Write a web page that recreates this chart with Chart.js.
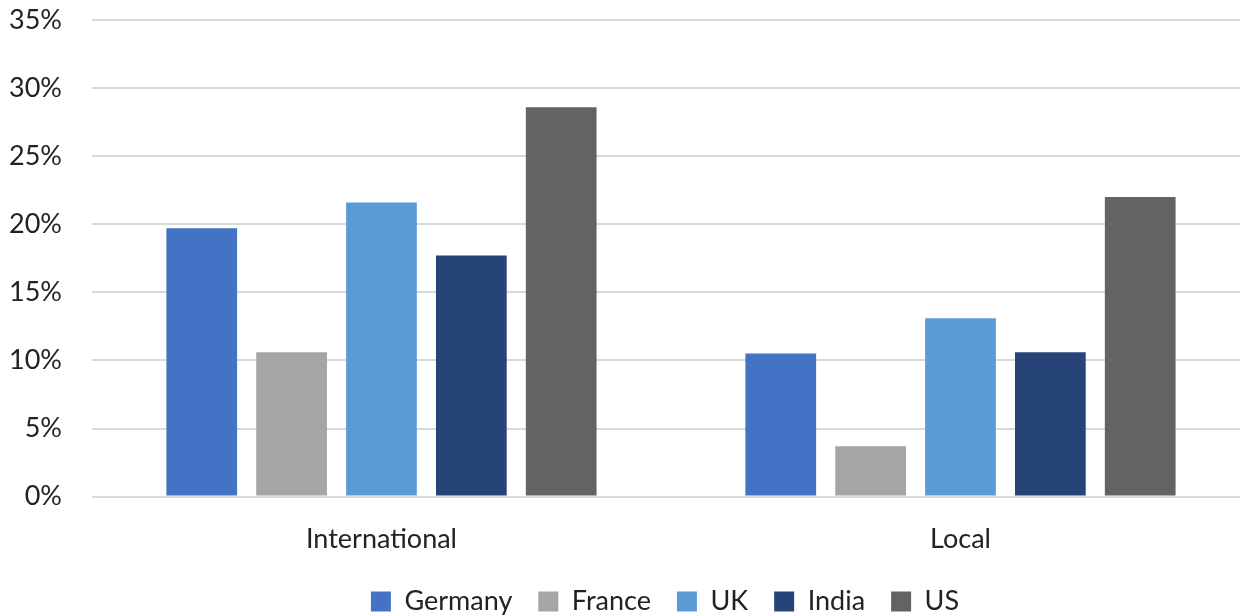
<!DOCTYPE html>
<html>
<head>
<meta charset="utf-8">
<script src="https://cdn.jsdelivr.net/npm/chart.js@4/dist/chart.umd.min.js"></script>
<style>
  html, body { margin: 0; padding: 0; background: #fff; overflow: hidden; }
  #wrap { width: 1240px; height: 616px; overflow: hidden; }
</style>
</head>
<body>
<!-- plot runs a little past the right edge, as in the original -->
<div id="wrap"><canvas id="chart" width="1250" height="616"></canvas></div>
<script>
// data
const categories = ["International", "Local"];
const germany = [19.7, 10.5];
const france = [10.6, 3.7];
const uk = [21.6, 13.1];
const india = [17.7, 10.6];
const us = [28.6, 22.0];

const seriesNames = ["Germany", "France", "UK", "India", "US"];
const seriesColors = ["#4472c4", "#a5a5a5", "#5b9bd5", "#264478", "#636363"];
const seriesData = [germany, france, uk, india, us];

// legend is centred under the plot area rather than the whole canvas
const legendShift = {
  id: "legendShift",
  afterLayout(chart) {
    chart.legend.left += 101;
  },
};

document.addEventListener("DOMContentLoaded", () => {
  const ctx = document.getElementById("chart").getContext("2d");
  Chart.defaults.font.family = "Lato, 'Open Sans', sans-serif";
  Chart.defaults.color = "#222";

  new Chart(ctx, {
    type: "bar",
    data: {
      labels: categories,
      datasets: seriesNames.map((name, i) => ({
        label: name,
        data: seriesData[i],
        backgroundColor: seriesColors[i],
        borderWidth: 0,
        categoryPercentage: 0.776,
        barPercentage: 0.787,
      })),
    },
    options: {
      responsive: false,
      animation: false,
      devicePixelRatio: 1,
      layout: { padding: { top: 0, right: 0, left: -21, bottom: -9 } },
      plugins: {
        tooltip: { enabled: false },
        legend: {
          position: "bottom",
          labels: {
            boxWidth: 20,
            boxHeight: 20,
            padding: 26,
            font: { size: 27 },
            color: "#222",
          },
        },
      },
      scales: {
        x: {
          grid: { display: false },
          border: { display: false },
          ticks: { font: { size: 27 }, color: "#222", padding: 18 },
          afterFit: (scale) => {
            scale.height -= 11;
            scale.paddingRight = 0;
          },
        },
        y: {
          min: 0,
          max: 35,
          ticks: {
            stepSize: 5,
            padding: 30,
            font: { size: 27 },
            color: "#222",
            callback: (v) => v + "%",
          },
          grid: { color: "#d9d9d9", lineWidth: 2, drawTicks: false },
          border: { display: false },
          afterFit: (scale) => { scale.paddingTop = 20; scale.paddingBottom = 16; },
        },
      },
    },
    plugins: [legendShift],
  });
});
</script>
</body>
</html>
